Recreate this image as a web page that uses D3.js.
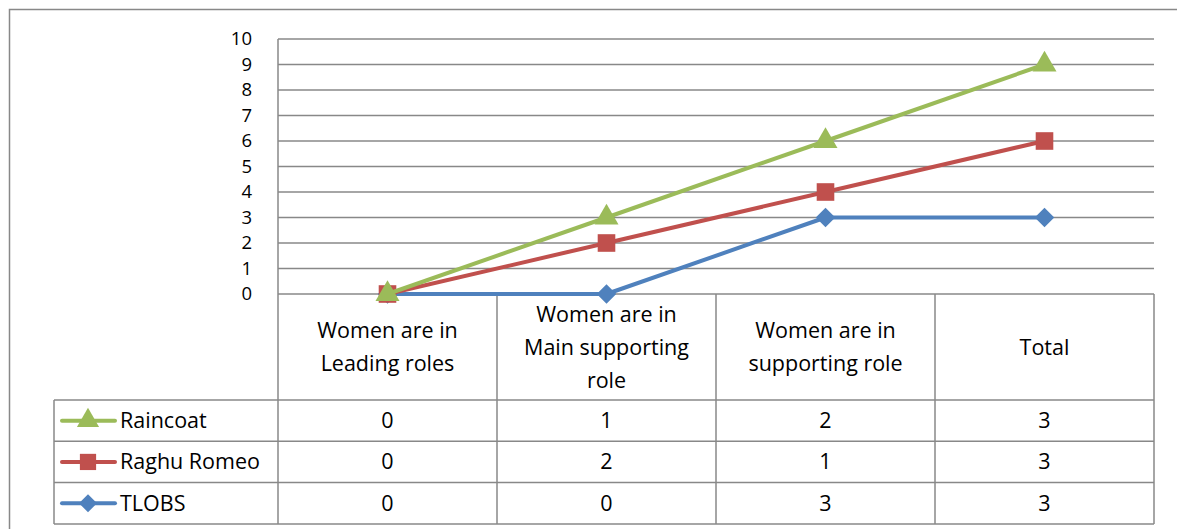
<!DOCTYPE html>
<html>
<head>
<meta charset="utf-8">
<script src="https://cdn.jsdelivr.net/npm/d3@7"></script>
<style>
  body { margin: 0; background: #fff; }
  svg { display: block; font-family: "Open Sans", sans-serif; }
</style>
</head>
<body>
<svg width="1177" height="529"></svg>
<script>
// chart data
var categories = [
    ["Women are in", "Leading roles"],
    ["Women are in", "Main supporting", "role"],
    ["Women are in", "supporting role"],
    ["Total"]
];
var seriesNames = ["Raincoat", "Raghu Romeo", "TLOBS"];
var raincoat = [0, 1, 2, 3],
    raghuRomeo = [0, 2, 1, 3],
    tlobs = [0, 0, 3, 3];
var yTicks = [0, 1, 2, 3, 4, 5, 6, 7, 8, 9, 10];

var colors = {"Raincoat": "#9BBB59", "Raghu Romeo": "#C0504D", "TLOBS": "#4F81BD"};
var symbols = {"Raincoat": d3.symbolTriangle, "Raghu Romeo": d3.symbolSquare, "TLOBS": d3.symbolSquare};
var symSize = {"Raincoat": 250, "Raghu Romeo": 310, "TLOBS": 190};
var symRot = {"Raincoat": 0, "Raghu Romeo": 0, "TLOBS": 45};
var rowValues = {"Raincoat": raincoat, "Raghu Romeo": raghuRomeo, "TLOBS": tlobs};

var svg = d3.select("svg"),
    plot = {left: 278, right: 1154, top: 39, bottom: 294},
    tableLeft = 54,
    headerBottom = 400,
    rowH = 41.3,
    fontSize = 21.5,
    gridColor = "#888";

// outer chart border
svg.append("rect")
    .attr("x", 9.5).attr("y", 9.5)
    .attr("width", 1180).attr("height", 540)
    .attr("fill", "none").attr("stroke", gridColor).attr("stroke-width", 1.5);

var x = d3.scaleBand().domain(d3.range(categories.length)).range([plot.left, plot.right]),
    y = d3.scaleLinear().domain([0, 10]).range([plot.bottom, plot.top]);

/* y axis - tick font a bit smaller so the labels don't collide */
var yAxis = svg.append("g")
    .attr("transform", "translate(" + plot.left + ",0)")
    .call(d3.axisLeft(y).tickValues(yTicks).tickSize(0).tickPadding(26)
        .tickFormat(d3.format("d")));
yAxis.select(".domain").remove();
yAxis.selectAll("text")
    .attr("font-family", "'Open Sans', sans-serif")
    .attr("font-size", 18.5).attr("fill", "#000");

// gridlines
svg.append("g").selectAll("line")
    .data(yTicks)
    .enter().append("line")
    .attr("x1", plot.left).attr("x2", plot.right)
    .attr("y1", function(d) { return y(d); })
    .attr("y2", function(d) { return y(d); })
    .attr("stroke", gridColor).attr("stroke-width", 1.5);

/* data table */
var tableBottom = headerBottom + rowH * seriesNames.length;
var tbl = svg.append("g").attr("stroke", gridColor).attr("stroke-width", 1.5);
// vertical lines
d3.range(categories.length + 1).forEach(function(i) {
    var xx = i < categories.length ? x(i) : plot.right;
    tbl.append("line").attr("x1", xx).attr("x2", xx)
        .attr("y1", i == 0 ? plot.top : plot.bottom).attr("y2", tableBottom);
});
tbl.append("line").attr("x1", tableLeft).attr("x2", tableLeft)
    .attr("y1", headerBottom).attr("y2", tableBottom);
// horizontal lines
d3.range(seriesNames.length + 1).forEach(function(i) {
    var yy = headerBottom + i * rowH;
    tbl.append("line").attr("x1", tableLeft).attr("x2", plot.right)
        .attr("y1", yy).attr("y2", yy);
});

// header labels
var headerMid = (plot.bottom + headerBottom) / 2;
categories.forEach(function(lines, i) {
    var t = svg.append("text")
        .attr("text-anchor", "middle")
        .attr("font-size", fontSize)
        .attr("x", x(i) + x.bandwidth() / 2);
    lines.forEach(function(l, j) {
        t.append("tspan")
            .attr("x", x(i) + x.bandwidth() / 2)
            .attr("y", headerMid + (j - (lines.length - 1) / 2) * 33)
            .attr("dy", "0.35em")
            .text(l);
    });
});

// rows with legend keys
seriesNames.forEach(function(name, r) {
    var cy = headerBottom + r * rowH + rowH / 2;
    svg.append("line")
        .attr("x1", 62).attr("x2", 115).attr("y1", cy).attr("y2", cy)
        .attr("stroke", colors[name]).attr("stroke-width", 4).attr("stroke-linecap", "round");
    svg.append("path")
        .attr("d", d3.symbol().type(symbols[name]).size(symSize[name] * 0.85))
        .attr("transform", "translate(88," + cy + ") rotate(" + symRot[name] + ")")
        .attr("fill", colors[name]);
    svg.append("text")
        .attr("x", 120).attr("y", cy).attr("dy", "0.35em")
        .attr("font-size", fontSize).text(name);
    rowValues[name].forEach(function(v, i) {
        svg.append("text")
            .attr("x", x(i) + x.bandwidth() / 2).attr("y", cy).attr("dy", "0.35em")
            .attr("text-anchor", "middle").attr("font-size", fontSize).text(v);
    });
});

/* stacked lines */
var table = categories.map(function(c, i) {
    return {"Raincoat": raincoat[i], "Raghu Romeo": raghuRomeo[i], "TLOBS": tlobs[i]};
});
var stacked = d3.stack().keys(["TLOBS", "Raghu Romeo", "Raincoat"])(table);

var line = d3.line()
    .x(function(d, i) { return x(i) + x.bandwidth() / 2; })
    .y(function(d) { return y(d[1]); });

stacked.forEach(function(s) {
    svg.append("path")
        .attr("d", line(s))
        .attr("fill", "none")
        .attr("stroke", colors[s.key])
        .attr("stroke-width", 4)
        .attr("stroke-linejoin", "round");
    svg.append("g").selectAll("path")
        .data(s)
        .enter().append("path")
        .attr("d", d3.symbol().type(symbols[s.key]).size(symSize[s.key]))
        .attr("transform", function(d, i) {
            return "translate(" + (x(i) + x.bandwidth() / 2) + "," + y(d[1]) + ") rotate(" + symRot[s.key] + ")";
        })
        .attr("fill", colors[s.key]);
});
</script>
</body>
</html>
